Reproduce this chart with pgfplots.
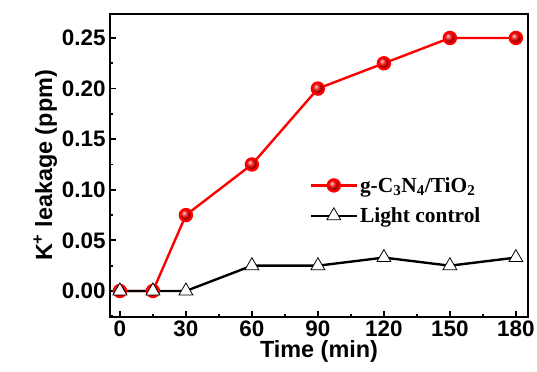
\documentclass[border=0pt]{standalone}
\usepackage{fontspec}
\setmainfont{Liberation Sans}
\newfontfamily\timesf{Liberation Serif}
\usepackage{pgfplots}
\pgfplotsset{compat=1.18}
\usetikzlibrary{calc}
\begin{document}
\begin{tikzpicture}
\begin{axis}[
  name=ax,
  scale only axis,
  width=418bp, height=303bp,
  xmin=-4.5, xmax=185.5,
  ymin=-0.0257, ymax=0.2737,
  xtick={0,30,60,90,120,150,180},
  minor xtick={15,45,75,105,135,165},
  ytick={0,0.05,0.1,0.15,0.2,0.25},
  minor ytick={-0.025,0.025,0.075,0.125,0.175,0.225},
  tick pos=left,
  tick align=inside,
  major tick length=6bp,
  minor tick length=3.5bp,
  every tick/.style={line width=1.8pt, black},
  axis line style={line width=2pt},
  /pgf/number format/assume math mode=true,
  /pgf/number format/fixed,
  /pgf/number format/fixed zerofill,
  /pgf/number format/precision=2,
  yticklabel style={font=\fontsize{22.5}{22.5}\selectfont\bfseries, xshift=-1bp},
  xticklabel style={font=\fontsize{22.5}{22.5}\selectfont\bfseries, /pgf/number format/precision=0, /pgf/number format/fixed zerofill=false},
  xlabel={Time (min)},
  ylabel={K\textsuperscript{+} leakage (ppm)},
  label style={font=\fontsize{23.5}{23.5}\selectfont\bfseries},
  xlabel style={yshift=3bp},
  ylabel style={yshift=-2bp},
  legend style={draw=none, fill=none, at={(0.47,0.475)}, anchor=north west,
    font=\fontsize{21.5}{21.5}\selectfont\timesf\bfseries, row sep=10bp,
    /tikz/every even column/.append style={column sep=4bp}},
  legend cell align=left,
  legend image code/.code={\draw[mark repeat=2,mark phase=2] plot coordinates {(0bp,0bp) (23bp,0bp) (46bp,0bp)};},
]
\addplot[red, line width=2.4pt, mark=ball, mark size=6bp, mark options={ball color=red}]
  coordinates {(0,0) (15,0) (30,0.075) (60,0.125) (90,0.2) (120,0.225) (150,0.25) (180,0.25)};
\addlegendentry{g-C\textsubscript{3}N\textsubscript{4}/TiO\textsubscript{2}}
\addplot[black, line width=2.4pt, mark=triangle*, mark size=8bp, mark options={fill=white, line width=0.8pt}]
  coordinates {(0,0) (15,0) (30,0) (60,0.025) (90,0.025) (120,0.033) (150,0.025) (180,0.033)};
\addlegendentry{Light control}
\end{axis}
\pgfresetboundingbox
\useasboundingbox ($(ax.south west)+(-110bp,-55bp)$) rectangle ($(ax.north east)+(9bp,14bp)$);
\end{tikzpicture}
\end{document}
